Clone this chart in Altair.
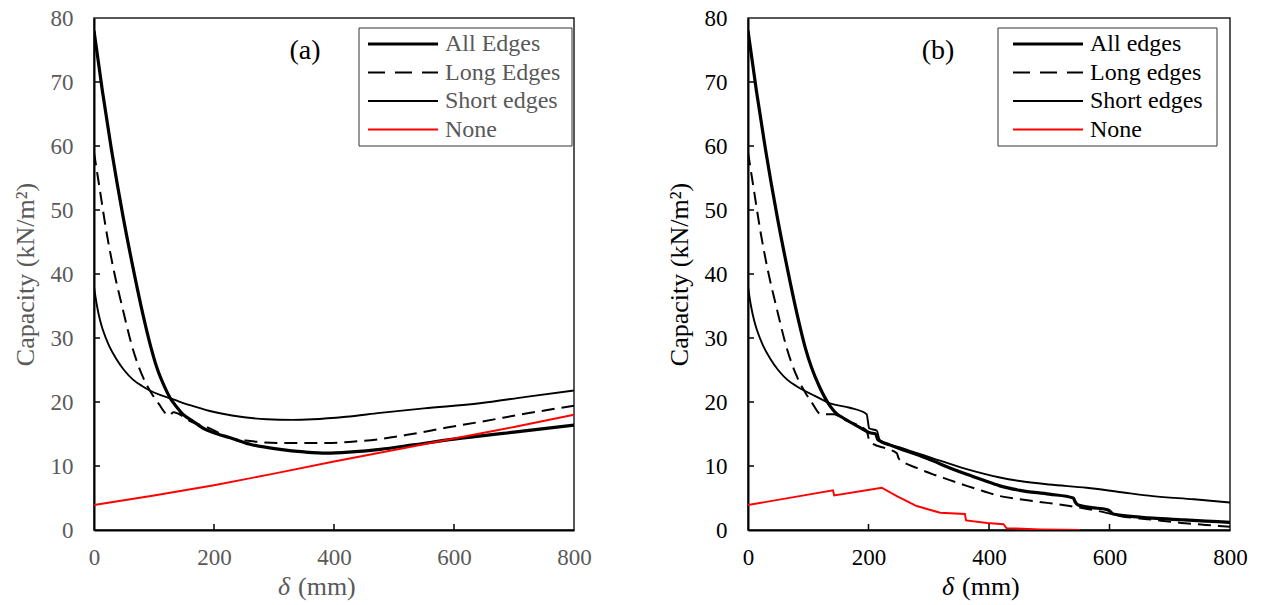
import altair as alt
import pandas as pd

# ---------------- data ----------------
SERIES_A = ["All Edges", "Long Edges", "Short edges", "None"]
SERIES_B = ["All edges", "Long edges", "Short edges", "None"]
X_TICKS = [0, 200, 400, 600, 800]
Y_TICKS = [0, 10, 20, 30, 40, 50, 60, 70, 80]

# Panel (a)
a_all_x = [0, 14, 29, 48, 65, 82, 95, 105, 116, 127, 138, 148, 165, 182, 200, 227, 260, 310, 350, 388, 430, 477, 532, 600, 700, 800]
a_all_y = [78, 68.6, 59.5, 49.2, 41, 33.5, 28.5, 25.3, 22.7, 20.6, 19.2, 18.1, 17, 15.9, 15.2, 14.4, 13.4, 12.6, 12.2, 12.0, 12.2, 12.6, 13.3, 14.2, 15.3, 16.4]
a_long_x = [0, 10, 20, 32, 48, 65, 82, 95, 108, 121, 126, 132, 140, 160, 190, 227, 260, 310, 388, 430, 477, 530, 588, 650, 720, 800]
a_long_y = [59, 53, 47, 41, 34.5, 28.2, 23.8, 21.5, 19.7, 18.1, 17.9, 18.4, 18.2, 17, 16, 14.4, 13.9, 13.6, 13.6, 13.8, 14.2, 15, 16, 17, 18.2, 19.4]
a_short_x = [0, 5, 10, 15, 25, 38, 50, 65, 80, 93, 110, 132, 160, 193, 230, 288, 330, 365, 420, 477, 550, 643, 720, 800]
a_short_y = [38, 35, 32.8, 31.2, 28.8, 26.6, 25.0, 23.5, 22.5, 21.8, 21.1, 20.4, 19.5, 18.6, 17.9, 17.3, 17.2, 17.3, 17.7, 18.3, 19, 19.8, 20.8, 21.8]
a_none_x = [0, 100, 200, 300, 400, 500, 600, 700, 800]
a_none_y = [3.9, 5.4, 7.0, 8.8, 10.7, 12.5, 14.3, 16.1, 18.0]

# Panel (b)
b_all_x = [0, 14, 29, 48, 65, 82, 95, 105, 119, 136, 148, 158, 186, 202, 212, 215, 219, 235, 252, 280, 307, 335, 363, 390, 418, 451, 500, 540, 543, 548, 570, 595, 600, 606, 640, 672, 720, 760, 800]
b_all_y = [78, 68.6, 59.5, 49.2, 41, 33.5, 28.5, 25.5, 22.3, 19.4, 18.1, 17.5, 16, 15.2, 15.0, 14.2, 13.9, 13.3, 12.7, 11.8, 10.8, 9.7, 8.7, 7.8, 6.9, 6.2, 5.6, 5.0, 4.4, 3.9, 3.5, 3.2, 3.0, 2.5, 2.1, 1.85, 1.6, 1.4, 1.2]
b_long_x = [0, 10, 20, 32, 48, 65, 82, 95, 106, 121, 143, 158, 197, 200, 205, 230, 247, 250, 255, 280, 307, 335, 363, 390, 418, 451, 500, 534, 580, 617, 672, 720, 760, 800]
b_long_y = [59, 53, 47, 41, 34.5, 28.2, 23.8, 21.5, 19.9, 18.1, 18.1, 17.3, 15.5, 14.4, 13.6, 12.7, 12.0, 11.2, 10.8, 9.7, 8.7, 7.8, 6.9, 6.1, 5.3, 4.8, 4.2, 3.75, 3.0, 2.2, 1.6, 1.1, 0.8, 0.5]
b_short_x = [0, 5, 10, 15, 25, 38, 50, 65, 80, 93, 110, 136, 169, 197, 199, 201, 214, 217, 219, 252, 307, 363, 418, 451, 500, 562, 620, 672, 740, 800]
b_short_y = [38, 35, 32.8, 31.2, 28.8, 26.6, 25.0, 23.5, 22.5, 21.8, 21, 19.8, 19.1, 18.1, 17, 15.9, 15.5, 14.5, 14.0, 12.9, 11.2, 9.5, 8.2, 7.65, 7.1, 6.6, 5.9, 5.3, 4.8, 4.3]
b_none_x = [0, 141, 143, 222, 247, 280, 300, 319, 360, 362, 397, 424, 429, 485, 551]
b_none_y = [3.9, 6.2, 5.4, 6.6, 5.3, 3.75, 3.2, 2.7, 2.5, 1.5, 1.1, 0.9, 0.3, 0.1, 0.0]

X_TITLE_SYMBOL = "δ"
X_TITLE_UNIT = "(mm)"
Y_TITLE = "Capacity (kN/m²)"

# ---------------- styles ----------------
STYLES = [
    {"color": "black", "strokeWidth": 3.2},
    {"color": "black", "strokeWidth": 2, "strokeDash": [13, 7]},
    {"color": "black", "strokeWidth": 1.9},
    {"color": "#FF0000", "strokeWidth": 1.9},
]
LEG_DASH = [17, 10]
INTERP = ["monotone", "monotone", "monotone", "linear"]
FONT = "Liberation Serif"
H = 512


def panel(curves, names, tag, text_color, W, leg_x0, leg_w, sym_dx, title_x, tag_x):
    xscale = alt.Scale(domain=[0, 800], nice=False, zero=False)
    yscale = alt.Scale(domain=[0, 80], nice=False)
    xaxis = alt.Axis(values=X_TICKS, title=None, labelColor=text_color,
                     labelFontSize=23, labelPadding=16,
                     format="d", labelFlush=False)
    yaxis = alt.Axis(values=Y_TICKS, title=Y_TITLE, labelColor=text_color, titleColor=text_color,
                     labelFontSize=23, titleFontSize=26, labelPadding=21, titlePadding=12,
                     titleFontWeight="normal", format="d")
    X = lambda f: alt.X(f, scale=xscale, axis=xaxis)
    Y = lambda f: alt.Y(f, scale=yscale, axis=yaxis)

    layers = []
    for (xs, ys), st, ip in zip(curves, STYLES, INTERP):
        df = pd.DataFrame({"d": xs, "c": ys})
        layers.append(alt.Chart(df).mark_line(clip=True, interpolate=ip, **st).encode(x=X("d:Q"), y=Y("c:Q")))

    # inward tick marks
    yt = pd.DataFrame({"d": [0] * (len(Y_TICKS) - 2), "c": Y_TICKS[1:-1]})
    layers.append(alt.Chart(yt).mark_rule(color="black", strokeWidth=1.5).encode(
        y=Y("c:Q"), x=alt.value(0), x2=alt.value(6)))
    xt = pd.DataFrame({"d": X_TICKS[1:-1], "c": [0] * (len(X_TICKS) - 2)})
    layers.append(alt.Chart(xt).mark_rule(color="black", strokeWidth=1.5).encode(
        x=X("d:Q"), y=alt.value(H), y2=alt.value(H - 6)))

    # x-axis title: italic delta + unit
    layers.append(alt.Chart(pd.DataFrame({"t": [X_TITLE_SYMBOL]})).mark_text(
        font=FONT, fontSize=26, fontStyle="italic", color=text_color, align="left",
        baseline="alphabetic").encode(text="t:N", x=alt.value(title_x), y=alt.value(H + 65)))
    layers.append(alt.Chart(pd.DataFrame({"t": [X_TITLE_UNIT]})).mark_text(
        font=FONT, fontSize=26, color=text_color, align="left",
        baseline="alphabetic").encode(text="t:N", x=alt.value(title_x + 20), y=alt.value(H + 65)))

    # panel tag
    layers.append(alt.Chart(pd.DataFrame({"t": [tag]})).mark_text(
        font=FONT, fontSize=28, color="black", align="center", baseline="middle").encode(
        text="t:N", x=alt.value(tag_x), y=alt.value(33)))

    # legend
    layers.append(alt.Chart(pd.DataFrame({"k": [0]})).mark_rect(
        fill="white", stroke="#333333", strokeWidth=1).encode(
        x=alt.value(leg_x0), x2=alt.value(leg_x0 + leg_w),
        y=alt.value(10), y2=alt.value(128)))
    for i, (name, st) in enumerate(zip(names, STYLES)):
        yy = 26 + 28.5 * i
        lst = dict(st)
        if "strokeDash" in lst:
            lst["strokeDash"] = LEG_DASH
        layers.append(alt.Chart(pd.DataFrame({"k": [0]})).mark_rule(**lst).encode(
            x=alt.value(leg_x0 + sym_dx), x2=alt.value(leg_x0 + sym_dx + 70),
            y=alt.value(yy), y2=alt.value(yy)))
        layers.append(alt.Chart(pd.DataFrame({"t": [name]})).mark_text(
            font=FONT, fontSize=24, color=text_color, align="left", baseline="middle").encode(
            text="t:N", x=alt.value(leg_x0 + sym_dx + 77), y=alt.value(yy)))

    return alt.layer(*layers).properties(width=W, height=H)


pa = panel([(a_all_x, a_all_y), (a_long_x, a_long_y), (a_short_x, a_short_y), (a_none_x, a_none_y)],
           SERIES_A, "(a)", "#595959", 480, 265, 213, 9, 184, 211)
pb = panel([(b_all_x, b_all_y), (b_long_x, b_long_y), (b_short_x, b_short_y), (b_none_x, b_none_y)],
           SERIES_B, "(b)", "black", 482, 250, 219, 15, 194, 190)

chart = alt.hconcat(pa, pb, spacing=174, bounds="flush").properties(
    padding={"left": 11, "top": 6, "right": 5, "bottom": 0},
    background="white",
).configure_axis(
    labelFont=FONT, titleFont=FONT, grid=False, tickSize=0,
    domainColor="black", domainWidth=2,
).configure_view(stroke="#222222", strokeWidth=1.5)

chart.save("out.html", embed_options={"renderer": "svg", "actions": False})
